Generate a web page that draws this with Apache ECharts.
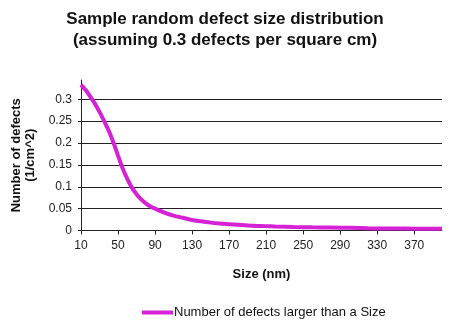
<!DOCTYPE html>
<html>
<head>
<meta charset="utf-8">
<script src="https://cdn.jsdelivr.net/npm/echarts@6/dist/echarts.min.js"></script>
<style>html,body{margin:0;padding:0;background:#fff}#c{width:450px;height:326px}</style>
</head>
<body>
<div id="c"></div>
<script>
var sizes = [10,15,20,25,30,35,40,45,50,55,60,65,70,75,80,85,90,100,110,120,130,140,150,160,170,180,190,200,210,220,240,260,280,300,320,340,360,380,400];
var defects = [0.333,0.321,0.306,0.290,0.271,0.250,0.228,0.201,0.171,0.142,0.118,0.098,0.083,0.071,0.062,0.055,0.050,0.041,0.034,0.029,0.024,0.021,0.018,0.016,0.0145,0.013,0.0115,0.0105,0.010,0.009,0.0078,0.0072,0.0068,0.0062,0.005,0.0046,0.0043,0.0041,0.004];
var xTicks = [10,50,90,130,170,210,250,290,330,370];
var yTicks = [0,0.05,0.1,0.15,0.2,0.25,0.3];
var gridVals = [0.05,0.1,0.15,0.2,0.25,0.3];
var seriesName = 'Number of defects larger than a Size';

var chart = echarts.init(document.getElementById('c'));
var pts = sizes.map(function(s,i){return [s, defects[i]];});
chart.setOption({
  animation: false,
  title: {
    text: 'Sample random defect size distribution\n(assuming 0.3 defects per square cm)',
    left: 'center', top: 4,
    textStyle: {fontFamily: 'Liberation Sans', fontWeight: 'bold', fontSize: 17, lineHeight: 21, color: '#111'}
  },
  grid: {left: 81, right: 8, top: 80, bottom: 95.5, containLabel: false},
  legend: {
    data: [{name: seriesName, icon: 'rect'}],
    left: 137, top: 301,
    itemWidth: 31, itemHeight: 4, itemGap: 2,
    textStyle: {fontFamily: 'Liberation Sans', fontSize: 13, color: '#111', padding: [0,0,0,-4]}
  },
  xAxis: {
    type: 'value', min: 10, max: 400,
    name: 'Size (nm)', nameLocation: 'middle', nameGap: 37,
    nameTextStyle: {fontFamily: 'Liberation Sans', fontWeight: 'bold', fontSize: 13, color: '#111'},
    axisLine: {show: true, onZero: false, lineStyle: {color: '#222', width: 1}},
    axisTick: {show: true, length: 4, inside: false, customValues: xTicks, lineStyle: {color: '#222'}},
    axisLabel: {customValues: xTicks, fontFamily: 'Liberation Sans', fontSize: 12, color: '#222', margin: 9},
    splitLine: {show: false}
  },
  yAxis: {
    type: 'value', min: 0, max: 0.344,
    name: 'Number of defects\n(1/cm^2)', nameLocation: 'middle', nameGap: 43,
    nameTextStyle: {fontFamily: 'Liberation Sans', fontWeight: 'bold', fontSize: 13, lineHeight: 14, color: '#111'},
    axisLine: {show: true, lineStyle: {color: '#222', width: 1}},
    axisTick: {show: true, length: 3, customValues: yTicks, lineStyle: {color: '#222'}},
    axisLabel: {customValues: yTicks, fontFamily: 'Liberation Sans', fontSize: 12, color: '#222', margin: 9},
    splitLine: {show: false}
  },
  series: [{
    name: seriesName,
    type: 'line',
    data: pts,
    smooth: 0.3,
    showSymbol: false,
    symbol: 'none',
    lineStyle: {color: '#d422d4', width: 4},
    itemStyle: {color: '#d422d4'},
    z: 3,
    markLine: {
      silent: true, symbol: ['none','none'], animation: false,
      label: {show: false},
      lineStyle: {color: '#222', width: 1, type: 'solid'},
      z: 1,
      data: gridVals.map(function(v){return {yAxis: v};})
    }
  }]
});
</script>
</body>
</html>
